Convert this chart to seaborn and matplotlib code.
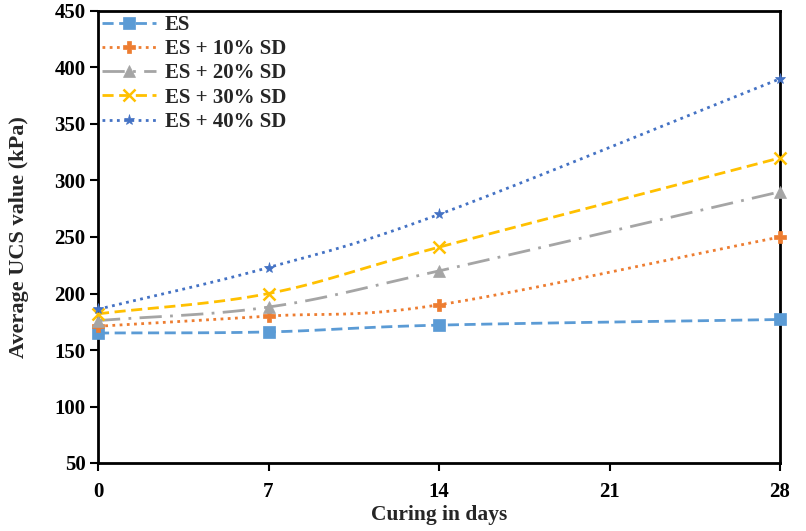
import numpy as np
import pandas as pd
import seaborn as sns
import matplotlib
matplotlib.use('Agg')
import matplotlib.pyplot as plt
from matplotlib.lines import Line2D

days = [0, 7, 14, 28]
series_names = ['ES', 'ES + 10% SD', 'ES + 20% SD', 'ES + 30% SD', 'ES + 40% SD']
es = [165, 166, 172, 177]
sd10 = [171, 180, 190, 250]
sd20 = [176, 188, 220, 290]
sd30 = [182, 200, 241, 320]
sd40 = [186, 223, 270, 390]
values = [es, sd10, sd20, sd30, sd40]

colors = ['#5B9BD5', '#ED7D31', '#A5A5A5', '#FFC000', '#4472C4']
markers = ['s', 'P', '^', 'x', '*']
dashes = [(4, 2), (1, 1.6), (8, 3, 1, 3), (4, 2), (1, 1.6)]


def smooth(x, y, n=40):
    # catmull-rom style smoothing like excel's smoothed line
    x = np.asarray(x, float)
    y = np.asarray(y, float)
    px = np.concatenate([[2 * x[0] - x[1]], x, [2 * x[-1] - x[-2]]])
    py = np.concatenate([[2 * y[0] - y[1]], y, [2 * y[-1] - y[-2]]])
    xs, ys = [], []
    for i in range(1, len(px) - 2):
        t = np.linspace(0, 1, n)
        for p, out in ((px, xs), (py, ys)):
            p0, p1, p2, p3 = p[i - 1], p[i], p[i + 1], p[i + 2]
            out.append(0.5 * ((2 * p1) + (-p0 + p2) * t
                              + (2 * p0 - 5 * p1 + 4 * p2 - p3) * t ** 2
                              + (-p0 + 3 * p1 - 3 * p2 + p3) * t ** 3))
    return np.concatenate(xs), np.concatenate(ys)


sns.set_theme(style='ticks')
plt.rcParams['font.family'] = ['Liberation Serif', 'DejaVu Serif']
plt.rcParams['font.weight'] = 'bold'

fig = plt.figure(figsize=(8.06, 5.31), dpi=100)
ax = fig.add_axes([98 / 806, 1 - 463 / 531, (780 - 98) / 806, (463 - 11) / 531])

handles = []
for name, vals, c, m, d in zip(series_names, values, colors, markers, dashes):
    sx, sy = smooth(days, vals)
    curve = pd.DataFrame({'x': sx, 'y': sy})
    sns.lineplot(data=curve, x='x', y='y', ax=ax, color=c, lw=2, sort=False,
                 estimator=None, dashes=False)
    ax.lines[-1].set_dashes(d)
    pts = pd.DataFrame({'x': days, 'y': vals})
    ms = 8
    ax.plot(pts['x'], pts['y'], ls='none', marker=m, color=c, ms=ms,
            mew=1.8 if m == 'x' else 0.5, clip_on=False, zorder=5)
    h = Line2D([], [], color=c, lw=2, marker=m, ms=ms,
               mew=1.8 if m == 'x' else 0.5)
    h.set_dashes(d)
    handles.append(h)

ax.set_xlim(0, 28)
ax.set_ylim(50, 450)
ax.set_xticks([0, 7, 14, 21, 28])
ax.set_yticks(range(50, 451, 50))
ax.tick_params(direction='out', length=6, width=1.5, labelsize=15, colors='black')
ax.tick_params(axis='x', pad=8)
ax.tick_params(axis='y', pad=3)
for lab in ax.get_xticklabels() + ax.get_yticklabels():
    lab.set_fontweight('bold')
for s in ax.spines.values():
    s.set_linewidth(2)
    s.set_color('black')
ax.set_xlabel('Curing in days', fontsize=15.5, fontweight='bold', labelpad=2)
ax.set_ylabel('Average UCS value (kPa)', fontsize=16, fontweight='bold', labelpad=18)

ax.legend(handles, series_names, loc='upper left', frameon=False,
          prop={'size': 15, 'weight': 'bold'}, handlelength=2.6,
          handletextpad=0.4, borderaxespad=0.0, borderpad=0.2,
          labelspacing=0.2)

fig.savefig('out.png', dpi=100)
